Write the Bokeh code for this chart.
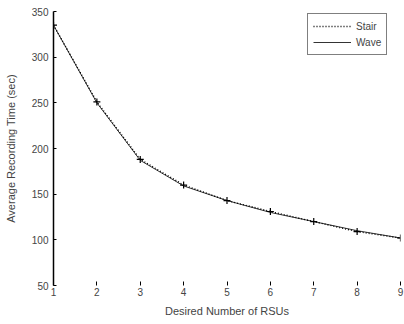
from bokeh.plotting import figure
from bokeh.models import Legend, LegendItem, Range1d, FixedTicker
from bokeh.embed import file_html
from bokeh.resources import INLINE

rsus = [1, 2, 3, 4, 5, 6, 7, 8, 9]
stair = [335, 251, 188, 160, 143, 131, 120, 109, 102]
wave = [335, 250, 187, 159, 143, 130, 120, 110, 102]
y_ticks = [50, 100, 150, 200, 250, 300, 350]
x_ticks = [1, 2, 3, 4, 5, 6, 7, 8, 9]

FONT = "Liberation Sans"

p = figure(width=404, height=324, output_backend="svg", toolbar_location=None,
           x_range=Range1d(1, 9), y_range=Range1d(50, 350),
           min_border_left=53, min_border_right=4, min_border_top=11, min_border_bottom=39)
p.outline_line_color = None
p.xgrid.grid_line_color = None
p.ygrid.grid_line_color = None

rw = p.line(rsus, wave, line_color="black", line_width=0.8)
rs = p.line(rsus, stair, line_color="black", line_width=1.4, line_dash="1 2")
rm = p.scatter(rsus, stair, marker="cross", size=7, line_color="black", line_width=1.2)

# axes
p.yaxis.ticker = FixedTicker(ticks=y_ticks)
p.yaxis.axis_label = "Average Recording Time (sec)"
p.yaxis.axis_line_width = 1.5
p.yaxis.major_tick_in = 3
p.yaxis.major_tick_out = 0
p.yaxis.minor_tick_line_color = None
p.yaxis.major_label_text_font = FONT
p.yaxis.major_label_text_font_size = "10px"
p.yaxis.axis_label_text_font = FONT
p.yaxis.axis_label_text_font_size = "11px"
p.yaxis.axis_label_text_font_style = "normal"
p.yaxis.axis_label_standoff = 12
p.yaxis.major_label_standoff = 5

p.xaxis.ticker = FixedTicker(ticks=x_ticks)
p.xaxis.axis_label = "Desired Number of RSUs"
p.xaxis.axis_line_color = None
p.xaxis.major_tick_in = 4
p.xaxis.major_tick_out = 0
p.xaxis.minor_tick_line_color = None
p.xaxis.major_label_text_font = FONT
p.xaxis.major_label_text_font_size = "10px"
p.xaxis.axis_label_text_font = FONT
p.xaxis.axis_label_text_font_size = "11px"
p.xaxis.axis_label_text_font_style = "normal"
p.xaxis.axis_label_standoff = 6
p.xaxis.major_label_standoff = 2

legend = Legend(items=[LegendItem(label="Stair", renderers=[rs]),
                       LegendItem(label="Wave", renderers=[rw])],
                location=(254, 230), margin=0, padding=5, spacing=2,
                border_line_color="black", border_line_width=1.2,
                label_text_font=FONT, label_text_font_size="10px",
                glyph_width=38, glyph_height=14, label_height=14,
                label_standoff=5, background_fill_alpha=1)
p.add_layout(legend, "center")

open("out.html", "w").write(file_html(p, INLINE))
